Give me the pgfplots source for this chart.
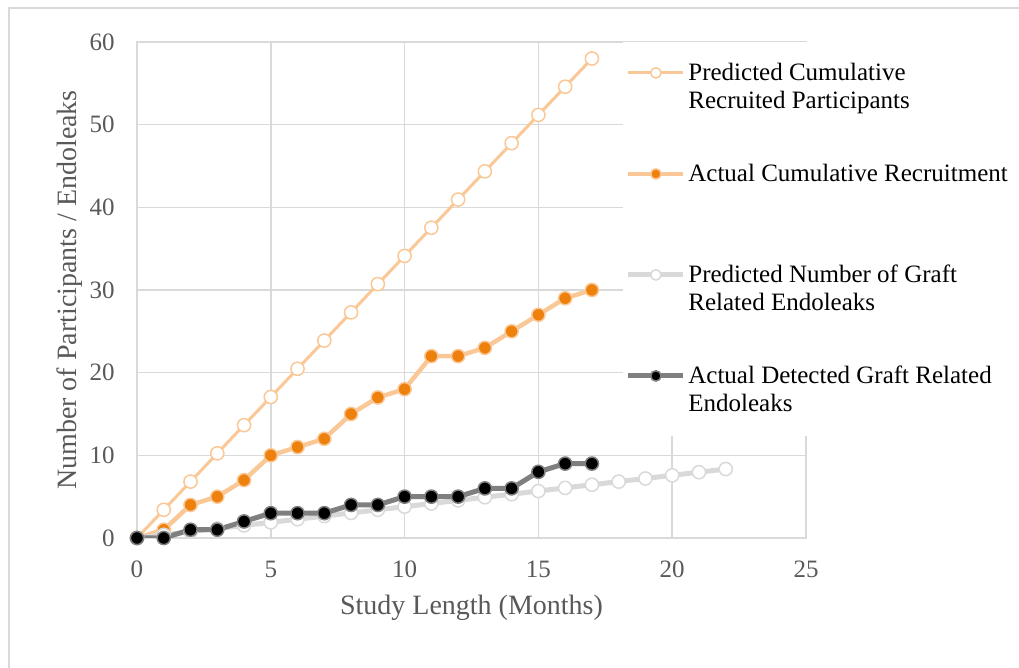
\documentclass[border=0pt]{standalone}
\usepackage{fontspec}
\setmainfont{Liberation Serif}
\usepackage{pgfplots}
\pgfplotsset{compat=1.18}
\definecolor{peach}{RGB}{250,200,150}
\definecolor{orng}{RGB}{238,128,14}
\definecolor{lgray}{RGB}{217,217,217}
\definecolor{dgray}{RGB}{127,127,127}
\definecolor{txtgray}{RGB}{89,89,89}
\definecolor{gridc}{RGB}{217,217,217}
\newcommand{\twoline}[2]{\vtop{\hbox{\strut #1}\hbox{\strut #2}}}
\begin{document}
\begin{tikzpicture}
\useasboundingbox (0,0) rectangle (509.5pt,334pt);
\draw[gridc, line width=0.75pt] (4.5pt,0) -- (4.5pt,330pt) -- (509.5pt,330pt);
\begin{axis}[
  at={(68.5pt,65pt)}, anchor=south west,
  scale only axis, width=334.5pt, height=248pt,
  xmin=0, xmax=25, ymin=0, ymax=60,
  xtick={0,5,...,25}, ytick={0,10,...,60},
  major tick length=0pt,
  grid=major, major grid style={gridc, line width=0.75pt},
  axis line style={gridc, line width=0.75pt},
  /pgf/number format/assume math mode=true,
  tick label style={font=\fontsize{12.5}{15}\selectfont, text=txtgray, inner sep=0pt},
  xticklabel style={anchor=center, yshift=-15.75pt},
  yticklabel style={anchor=east, xshift=-11pt},
  label style={font=\fontsize{14}{17}\selectfont, text=txtgray},
  xlabel={Study Length (Months)},
  ylabel={Number of Participants / Endoleaks},
  xlabel style={at={(axis description cs:0.5,-0.1552)}, anchor=base},
  ylabel style={at={(axis description cs:-0.0900,0.5)}, anchor=base},
  legend style={at={(axis description cs:0.7257,1.0)}, anchor=north west,
    fill=white, draw=none, inner xsep=1.5pt, inner ysep=9pt, row sep=23pt,
    cells={anchor=base west},
    nodes={inner xsep=1.25pt, inner ysep=1.25pt, text height=9pt, text depth=16pt,
      font=\fontsize{12.5}{14}\selectfont, text=black}},
  legend image code/.code={\path (0pt,0pt); \draw[mark repeat=2,mark phase=2,#1,mark size=2.6pt] plot coordinates {(0pt,4pt) (13.75pt,4pt) (27.5pt,4pt)};},
]
\addplot[peach, line width=1.5pt, mark=*, mark size=3.3pt, mark options={fill=white, draw=peach, line width=0.75pt}]
coordinates {(0,0) (1,3.41) (2,6.82) (3,10.24) (4,13.65) (5,17.06) (6,20.47) (7,23.88) (8,27.29) (9,30.71) (10,34.12) (11,37.53) (12,40.94) (13,44.35) (14,47.76) (15,51.18) (16,54.59) (17,58.0)};
\addlegendentry{\twoline{Predicted Cumulative}{Recruited Participants}}
\addplot[peach, line width=2.25pt, mark=*, mark size=3.3pt, mark options={fill=orng, draw=peach, line width=0.75pt}]
coordinates {(0,0) (1,1) (2,4) (3,5) (4,7) (5,10) (6,11) (7,12) (8,15) (9,17) (10,18) (11,22) (12,22) (13,23) (14,25) (15,27) (16,29) (17,30)};
\addlegendentry{Actual Cumulative Recruitment}
\addplot[lgray, line width=2.5pt, mark=*, mark size=3.3pt, mark options={fill=white, draw=lgray, line width=0.75pt}]
coordinates {(0,0) (1,0.38) (2,0.76) (3,1.14) (4,1.52) (5,1.89) (6,2.27) (7,2.65) (8,3.03) (9,3.41) (10,3.79) (11,4.17) (12,4.55) (13,4.93) (14,5.30) (15,5.68) (16,6.06) (17,6.44) (18,6.82) (19,7.20) (20,7.58) (21,7.96) (22,8.34)};
\addlegendentry{\twoline{Predicted Number of Graft}{Related Endoleaks}}
\addplot[dgray, line width=2.5pt, mark=*, mark size=3.3pt, mark options={fill=black, draw=dgray, line width=0.75pt}]
coordinates {(0,0) (1,0) (2,1) (3,1) (4,2) (5,3) (6,3) (7,3) (8,4) (9,4) (10,5) (11,5) (12,5) (13,6) (14,6) (15,8) (16,9) (17,9)};
\addlegendentry{\twoline{Actual Detected Graft Related}{Endoleaks}}
\end{axis}
\end{tikzpicture}
\end{document}
